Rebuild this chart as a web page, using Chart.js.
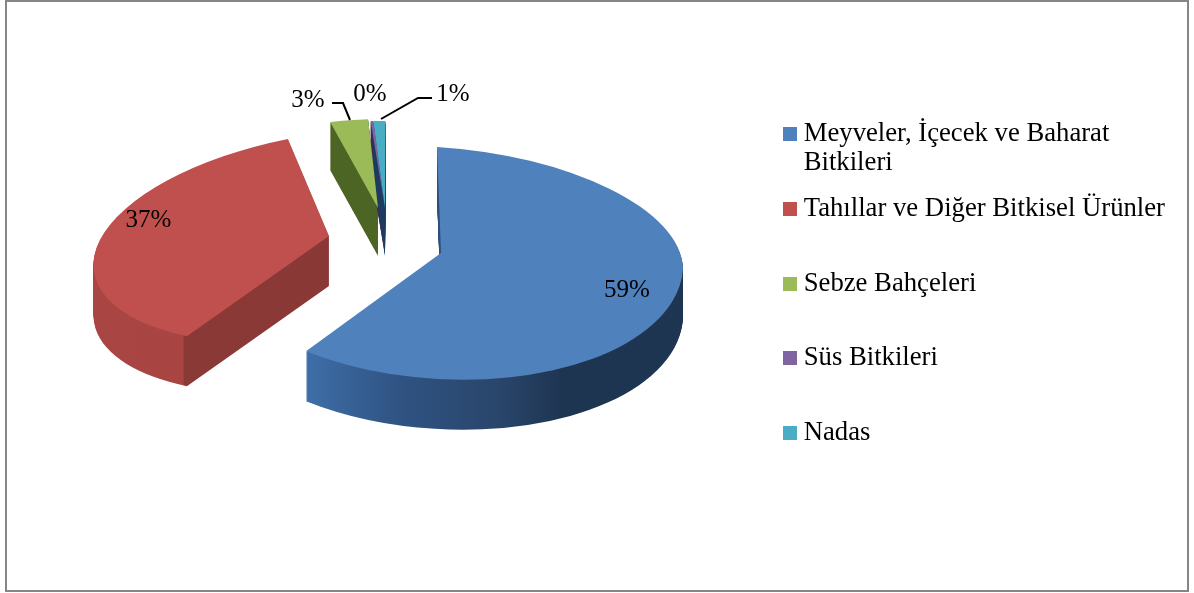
<!DOCTYPE html>
<html><head><meta charset="utf-8">
<style>html,body{margin:0;padding:0;background:#fff;overflow:hidden}canvas{display:block}</style>
<script src="https://cdn.jsdelivr.net/npm/chart.js@4"></script>
</head><body>
<canvas id="c" width="1194" height="593"></canvas>
<script>
const categories = ["Meyveler, İçecek ve Baharat Bitkileri","Tahıllar ve Diğer Bitkisel Ürünler","Sebze Bahçeleri","Süs Bitkileri","Nadas"];
const shares = [59.0, 36.9, 3.0, 0.2, 0.9];
const sliceColors = ["#4f81bd","#c0504d","#9bbb59","#8064a2","#4bacc6"];
const legendWrap = ["Meyveler, İçecek ve Baharat","Bitkileri"];

const FONT = "'Liberation Serif'";
const FS = 26.7;
const LABEL_FS = 25;
const R = 242, DEPTH = 50;
/* view of each exploded slice: apex on the page and the 3D tilt (a b c d); the blue slice uses a separate tilt for its back and front half */
const views = [
  {apex:[441,253], back:[1,0.0165,0.062,0.438], front:[1,-0.026,0.062,0.52]},
  {apex:[329,236], all:[0.97,-0.08,-0.084,0.437]},
  {apex:[378,208], all:[0.843,-0.0176,0,0.368], depth:48},
  {apex:[385,208], all:[0.89,-0.002,0,0.36], depth:48},
  {apex:[385,208], all:[0.89,-0.002,0,0.36], depth:48}
];
const wallStops = [
  [[0,"#3f6ea8"],[0.256,"#3f6ea8"],[0.335,"#2f5382"],[0.42,"#29456a"],[0.47,"#1e3552"],[1,"#1e3654"]],
  [[0,"#aa4744"],[0.153,"#a84543"],[0.1545,"#8a3937"],[1,"#83342f"]],
  [[0,"#4c6524"],[1,"#4c6524"]],
  [[0,"#3c2c55"],[1,"#3c2c55"]],
  [[0,"#1d3a5f"],[1,"#1d3a5f"]]
];
const labelSpots = [[627,290],[148.5,220],[308,100],[370,94],[453,94]];
const leaders = [null,null,[[332,103],[343,103],[350,120]],null,[[432,98],[418,98],[381,119]]];

function swatch(color){const s=document.createElement('canvas');s.width=14;s.height=14;const x=s.getContext('2d');x.fillStyle=color;x.fillRect(0,0,14,14);return s;}

function pieces(v){
  if(v.all) return [{m:v.all,clip:null}];
  return [{m:v.front,clip:[-R-5,0,2*R+10,R+5]},{m:v.back,clip:[-R-5,-R-5,2*R+10,R+8]}];
}

const pie3d = {
  id:'pie3d',
  afterDatasetsUpdate(chart){
    chart.getDatasetMeta(0).data.forEach(a=>{a.x=0;a.y=0;a.outerRadius=R;});
  },
  beforeDraw(chart){
    const c=chart.ctx;
    c.save();c.fillStyle='#fff';c.fillRect(0,0,1194,593);
    c.strokeStyle='#868686';c.lineWidth=2;c.strokeRect(6,1,1182,590);c.restore();
  },
  beforeDatasetDraw(chart){
    const c=chart.ctx, data=chart.getDatasetMeta(0).data;
    const order=[2,3,4,1,0];
    order.forEach(i=>{
      const a=data[i], v=views[i], d=v.depth||DEPTH;
      const grad=c.createLinearGradient(0,0,1194,0);
      wallStops[i].forEach(s=>grad.addColorStop(s[0],s[1]));
      pieces(v).forEach(p=>{
        for(let k=d;k>=1;k--){
          c.save();
          c.translate(v.apex[0],v.apex[1]+k);
          c.transform(p.m[0],p.m[2],p.m[1],p.m[3],0,0);
          if(p.clip){c.beginPath();c.rect.apply(c,p.clip);c.clip();}
          c.beginPath();c.moveTo(0,0);c.arc(0,0,R,a.startAngle,a.endAngle);c.closePath();
          c.setTransform(1,0,0,1,0,0);
          c.fillStyle=grad;c.fill();
          c.restore();
        }
      });
    });
    order.forEach(i=>{
      const a=data[i], v=views[i];
      pieces(v).forEach(p=>{
        c.save();
        c.translate(v.apex[0],v.apex[1]);
        c.transform(p.m[0],p.m[2],p.m[1],p.m[3],0,0);
        if(p.clip){c.beginPath();c.rect.apply(c,p.clip);c.clip();}
        a.draw(c,chart.chartArea);
        c.restore();
      });
    });
    return false;
  },
  afterDraw(chart){
    const c=chart.ctx;
    c.save();
    c.fillStyle='#000';c.font=LABEL_FS+"px "+FONT;c.textAlign='center';c.textBaseline='middle';
    shares.forEach((v,i)=>c.fillText(Math.round(v)+'%',labelSpots[i][0],labelSpots[i][1]));
    c.strokeStyle='#000';c.lineWidth=2;
    leaders.forEach(l=>{if(!l)return;c.beginPath();l.forEach((p,j)=>j?c.lineTo(p[0],p[1]):c.moveTo(p[0],p[1]));c.stroke();});
    const hb=chart.legend.legendHitBoxes[0];
    c.font=FS+"px "+FONT;c.textAlign='left';c.textBaseline='middle';
    c.fillText(legendWrap[1],hb.left+0.3+FS/2,hb.top+hb.height/2+29);
    c.restore();
  }
};

new Chart(document.getElementById('c'),{
  type:'pie',
  data:{labels:categories,datasets:[{data:shares,backgroundColor:sliceColors,borderWidth:0,radius:R,clip:false}]},
  options:{
    responsive:false,animation:false,
    layout:{padding:{top:73,right:19,left:0,bottom:0}},
    plugins:{
      tooltip:{enabled:false},
      legend:{
        position:'right',align:'start',
        labels:{
          font:{family:FONT,size:FS},color:'#000',padding:48,
          usePointStyle:true,pointStyleWidth:0.3,boxHeight:14,
          generateLabels(chart){
            return categories.map((t,i)=>({text:i===0?legendWrap[0]:t,fillStyle:sliceColors[i],strokeStyle:sliceColors[i],lineWidth:0,pointStyle:swatch(sliceColors[i]),hidden:false,index:i,fontColor:'#000'}));
          }
        }
      }
    }
  },
  plugins:[pie3d]
});
</script>
</body></html>
